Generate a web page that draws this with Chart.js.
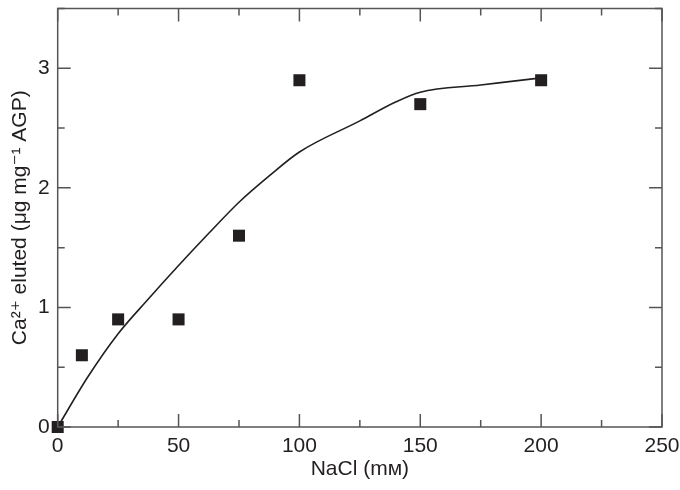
<!DOCTYPE html>
<html>
<head>
<meta charset="utf-8">
<script src="https://cdn.jsdelivr.net/npm/chart.js@4.4.1/dist/chart.umd.min.js"></script>
<style>
  html, body { margin: 0; padding: 0; background: #fff; }
  #wrap { width: 680px; height: 490px; }
</style>
</head>
<body>
<div id="wrap"><canvas id="chart-nacl"></canvas></div>
<script>
// data
var naclConc = [0, 10, 25, 50, 75, 100, 150, 200];
var caEluted = [0, 0.6, 0.9, 0.9, 1.6, 2.9, 2.7, 2.9];

var fitX = [0, 12.5, 25, 37.5, 50, 62.5, 75, 87.5, 100, 125, 140, 150, 175, 200];
var fitY = [0, 0.42, 0.78, 1.07, 1.35, 1.62, 1.88, 2.10, 2.30, 2.56, 2.72, 2.80, 2.86, 2.92];

var xTicks = [0, 50, 100, 150, 200, 250];
var yTicks = [0, 1, 2, 3];

var ink = '#231f20';
var axisGray = '#555555';
var fontFam = '"Liberation Sans", Arial, "DejaVu Sans", sans-serif';

// inward ticks + box
var frameTicks = {
    id: 'frameTicks',
    afterDatasetsDraw: function(chart) {
        var ctx = chart.ctx;
        var a = chart.chartArea;
        var xs = chart.scales.x, ys = chart.scales.y;
        ctx.save();
        ctx.strokeStyle = axisGray;
        ctx.lineWidth = 1.5;
        ctx.strokeRect(a.left, a.top, a.right - a.left, a.bottom - a.top);
        ctx.beginPath();
        for (var v = 0; v <= 250; v += 25) {
            var px = xs.getPixelForValue(v);
            var len = (v % 50 === 0) ? 13 : 7;
            ctx.moveTo(px, a.bottom); ctx.lineTo(px, a.bottom - len);
            ctx.moveTo(px, a.top); ctx.lineTo(px, a.top + len);
        }
        for (var w = 0; w <= 3.5; w += 0.5) {
            var py = ys.getPixelForValue(w);
            var l2 = (w % 1 === 0) ? 13 : 7;
            ctx.moveTo(a.left, py); ctx.lineTo(a.left + l2, py);
            ctx.moveTo(a.right, py); ctx.lineTo(a.right - l2, py);
        }
        ctx.stroke();
        ctx.restore();
    }
};

var ctx = document.getElementById('chart-nacl');
var naclChart = new Chart(ctx, {
    type: 'scatter',
    data: {
        datasets: [{
            label: 'measured',
            data: naclConc.map(function(x, i) { return {x: x, y: caEluted[i]}; }),
            pointStyle: 'rect',
            pointRadius: 8.5,
            pointHoverRadius: 8.5,
            backgroundColor: ink,
            borderColor: ink,
            borderWidth: 0,
            clip: false,
            order: 0
        }, {
            label: 'fit',
            data: fitX.map(function(x, i) { return {x: x, y: fitY[i]}; }),
            showLine: true,
            pointRadius: 0,
            borderColor: ink,
            borderWidth: 1.6,
            cubicInterpolationMode: 'monotone',
            fill: false,
            order: 1
        }]
    },
    plugins: [frameTicks],
    options: {
        responsive: true,
        maintainAspectRatio: false,
        animation: false,
        layout: { padding: { top: 2, right: 18, left: 0, bottom: 0 } },
        plugins: {
            legend: { display: false },
            tooltip: { enabled: false }
        },
        scales: {
            x: {
                type: 'linear',
                min: 0, max: 250,
                afterBuildTicks: function(s) { s.ticks = xTicks.map(function(v) { return {value: v}; }); },
                afterFit: function(s) { s.height = 63; s.paddingLeft = 0; s.paddingRight = 0; },
                grid: { display: false, drawTicks: false },
                border: { display: false },
                ticks: { color: ink, padding: 7, font: { family: fontFam, size: 21 }, maxRotation: 0 },
                title: {
                    display: true,
                    text: 'NaCl (mᴍ)',
                    color: ink,
                    font: { family: fontFam, size: 21 },
                    padding: { top: 0, bottom: 8 }
                }
            },
            y: {
                type: 'linear',
                min: 0, max: 3.5,
                afterBuildTicks: function(s) { s.ticks = yTicks.map(function(v) { return {value: v}; }); },
                afterFit: function(s) { s.width = 57.7; s.paddingTop = 0; s.paddingBottom = 0; },
                grid: { display: false, drawTicks: false },
                border: { display: false },
                ticks: { color: ink, padding: 8, font: { family: fontFam, size: 21 } },
                title: {
                    display: true,
                    text: 'Ca²⁺ eluted (μg mg⁻¹ AGP)',
                    color: ink,
                    font: { family: fontFam, size: 21 },
                    padding: { top: 8, bottom: 0 }
                }
            }
        }
    }
});
</script>
</body>
</html>
